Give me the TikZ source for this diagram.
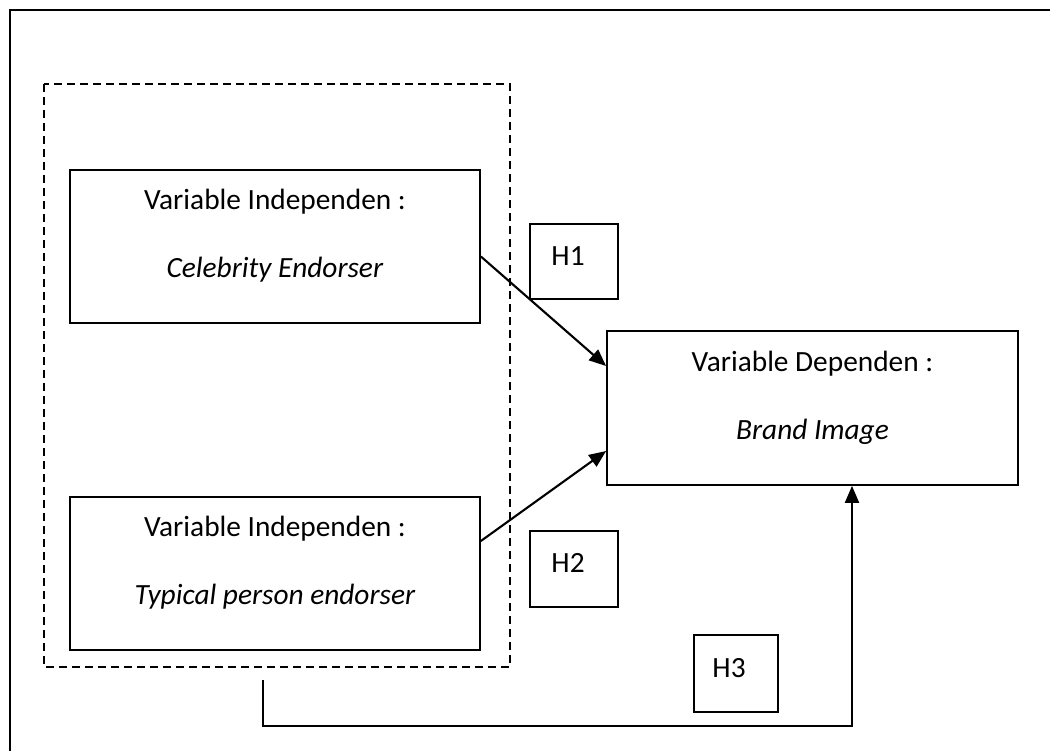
\documentclass[tikz,border=0pt]{standalone}
\usepackage{fontspec}
\setmainfont{Carlito}
\usetikzlibrary{positioning,arrows.meta}

\tikzset{
  varbox/.style={draw, line width=1pt, minimum width=8.2cm, minimum height=3.06cm, inner sep=0pt},
  hbox/.style={draw, line width=1pt, minimum width=1.76cm, minimum height=1.5cm, inner sep=0pt},
  txt/.style={font=\fontsize{16.7pt}{20pt}\selectfont, inner sep=0pt},
  arr/.style={line width=1.2pt, -{Triangle[length=0.34cm,width=0.28cm]}}
}

\begin{document}
\begin{tikzpicture}
	\useasboundingbox (0,0) rectangle (21,-15.02);
	\clip (0,0) rectangle (21,-15.02);
	% outer frame
	\draw[line width=1pt] (0.2,-0.2) rectangle (22,-16);
	% group of independent variables
	\draw[line width=1pt, dash pattern=on 0.16cm off 0.1cm] (0.88,-1.68) rectangle (10.2,-13.34);

	\node[varbox] (cel) at (5.5,-4.93) {};
	\node[txt] at ([yshift=-0.66cm]cel.north) {Variable Independen :};
	\node[txt] at ([yshift=-2.02cm]cel.north) {\textit{Celebrity Endorser}};

	\node[varbox] (typ) at (5.5,-11.47) {};
	\node[txt] at ([yshift=-0.66cm]typ.north) {Variable Independen :};
	\node[txt] at ([yshift=-2.02cm]typ.north) {\textit{Typical person endorser}};

	\node[varbox, minimum width=8.22cm, minimum height=3.08cm] (brand) at (16.25,-8.16) {};
	\node[txt] at ([yshift=-0.68cm]brand.north) {Variable Dependen :};
	\node[txt] at ([yshift=-2.04cm]brand.north) {\textit{Brand Image}};

	% hypotheses
	\node[hbox] (h1) at (11.48,-5.23) {};
	\node[txt, anchor=west] at ([xshift=0.44cm,yshift=-0.66cm]h1.north west) {H1};
	\node[hbox, minimum height=1.52cm] (h2) at (11.48,-11.38) {};
	\node[txt, anchor=west] at ([xshift=0.44cm,yshift=-0.66cm]h2.north west) {H2};
	\node[hbox, minimum width=1.68cm, minimum height=1.54cm] (h3) at (14.72,-13.47) {};
	\node[txt, anchor=west] at ([xshift=0.38cm,yshift=-0.68cm]h3.north west) {H3};

	\draw[arr] ([yshift=-0.2cm]cel.east) -- ([yshift=0.84cm]brand.west);
	\draw[arr] ([yshift=0.65cm]typ.east) -- ([yshift=-0.86cm]brand.west);
	\coordinate (grpout) at (5.26,-13.6);
	\draw[arr] (grpout) -- ++(0,-0.92) -| ([xshift=0.79cm]brand.south);
\end{tikzpicture}
\end{document}
